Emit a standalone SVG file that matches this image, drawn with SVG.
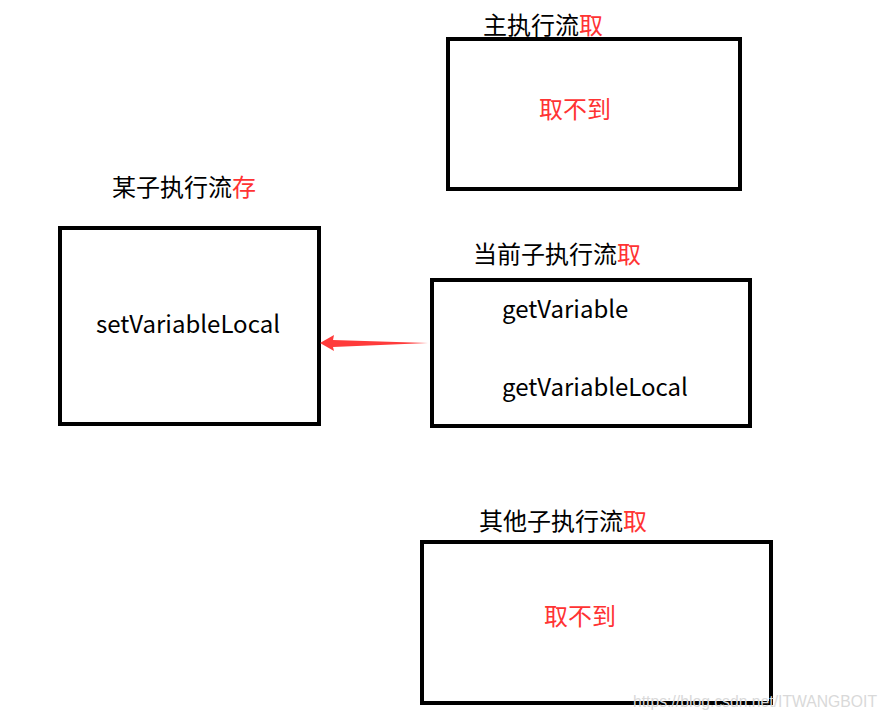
<svg xmlns="http://www.w3.org/2000/svg" width="888" height="721" viewBox="0 0 888 721">
<style>
.box{fill:none;stroke:#000;stroke-width:4}
.t{font-family:"Noto Sans CJK SC","Noto Sans",sans-serif;font-size:24px;fill:#000}
.r{fill:#ff3333}
.wm{font-family:"Liberation Sans",Arial,sans-serif;font-size:16px;fill:#d9d9d9}
</style>
<rect width="888" height="721" fill="#fff"/>
<g id="main">
<rect class="box" x="448" y="39" width="292" height="150"/>
<text class="t" x="483" y="34">主执行流<tspan class="r">取</tspan></text>
<text class="t r" x="575" y="118" text-anchor="middle">取不到</text>
</g>
<g id="child">
<rect class="box" x="60" y="228" width="259" height="196"/>
<text class="t" x="112" y="196">某子执行流<tspan class="r">存</tspan></text>
<text class="t" x="96" y="333">setVariableLocal</text>
</g>
<g id="current">
<rect class="box" x="432" y="280" width="318" height="146"/>
<text class="t" x="473" y="263">当前子执行流<tspan class="r">取</tspan></text>
<text class="t" x="502" y="318">getVariable</text>
<text class="t" x="502" y="396">getVariableLocal</text>
</g>
<g id="other">
<rect class="box" x="422" y="542" width="349" height="161"/>
<text class="t" x="479" y="530">其他子执行流<tspan class="r">取</tspan></text>
<text class="t r" x="580" y="625" text-anchor="middle">取不到</text>
</g>
<g id="connectors">
<polygon points="320,343 334,335 333,340 428,343 333,347 334,351" fill="#ff3b3b"/>
</g>
<text class="wm" x="633" y="707" textLength="244" lengthAdjust="spacingAndGlyphs">https://blog.csdn.net/ITWANGBOIT</text>
</svg>
